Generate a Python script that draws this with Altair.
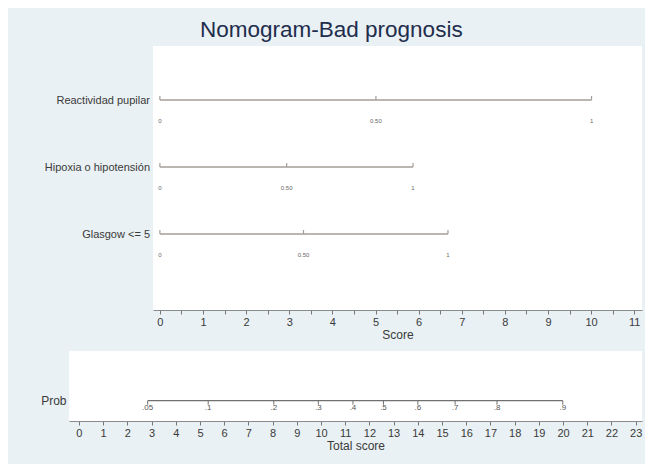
import json
import altair as alt
import pandas as pd

# ---------------- data ----------------
variables = ["Reactividad pupilar", "Hipoxia o hipotensión", "Glasgow <= 5"]
variable_rows = [1, 2, 3]
point_labels = ["0", "0.50", "1"]
reactividad_scores = [0.0, 5.01, 10.01]
hipoxia_scores = [0.0, 2.94, 5.87]
glasgow_scores = [0.0, 3.33, 6.68]

prob_labels = [".05", ".1", ".2", ".3", ".4", ".5", ".6", ".7", ".8", ".9"]
prob_scores = [2.84, 5.34, 8.05, 9.89, 11.32, 12.58, 14.0, 15.54, 17.27, 19.99]
prob_row = [1]

score_ticks = [0, 0.5, 1, 1.5, 2, 2.5, 3, 3.5, 4, 4.5, 5, 5.5, 6, 6.5, 7, 7.5,
               8, 8.5, 9, 9.5, 10, 10.5, 11]
total_ticks = [0, 1, 2, 3, 4, 5, 6, 7, 8, 9, 10, 11, 12, 13, 14, 15, 16, 17,
               18, 19, 20, 21, 22, 23]

# ---------------- tables ----------------
all_scores = [reactividad_scores, hipoxia_scores, glasgow_scores]
lines_df = pd.DataFrame({
    "variable": variables,
    "row": variable_rows,
    "start": [min(s) for s in all_scores],
    "end": [max(s) for s in all_scores],
})
pts_rows = []
for var, row, scores in zip(variables, variable_rows, all_scores):
    for sc, lab in zip(scores, point_labels):
        pts_rows.append({"variable": var, "row": row, "score": sc, "label": lab})
pts_df = pd.DataFrame(pts_rows)

prob_line_df = pd.DataFrame({"row": prob_row, "start": [min(prob_scores)],
                             "end": [max(prob_scores)]})
prob_df = pd.DataFrame({"row": prob_row * len(prob_scores), "score": prob_scores,
                        "label": prob_labels})

# ---------------- styles ----------------
BG = "#E9F1F4"
FONT = "Liberation Sans"
TXT = "#3a3a3a"
LINE = "#a39e98"

x_top = alt.Scale(domain=[-0.16, 11.18], nice=False, zero=False)
y_top = alt.Scale(domain=[0.194, 4.134], reverse=True, nice=False, zero=False)

top_axis = alt.Axis(values=score_ticks,
                    labelExpr="datum.value % 1 === 0 ? format(datum.value, 'd') : ''",
                    tickSize=4, labelPadding=2, labelFontSize=11, titleFontSize=12,
                    titlePadding=2, grid=False, domainColor="#8a8a8a", tickColor="#777777",
                    labelColor=TXT, titleColor=TXT, titleFontWeight="normal",
                    labelFlush=False, labelOverlap=False)


def xt(field):
    return alt.X(field, type="quantitative", scale=x_top, axis=top_axis, title="Score")


def yt(field):
    return alt.Y(field, type="quantitative", scale=y_top, axis=None)


top_lines = alt.Chart(lines_df).mark_rule(color=LINE, strokeWidth=1.6).encode(
    x=xt("start"), x2="end", y=yt("row"))
top_ticks = alt.Chart(pts_df).mark_rule(color=LINE, strokeWidth=1.2, yOffset=-4).encode(
    x=xt("score"), y=yt("row"), y2="row")
top_text = alt.Chart(pts_df).mark_text(fontSize=6, dy=21, color="#666666").encode(
    x=xt("score"), y=yt("row"), text="label:N")

top_plot = alt.layer(top_lines, top_ticks, top_text).properties(
    width=489, height=264, view=alt.ViewBackground(fill="white"))

label_expr = json.dumps(variables, ensure_ascii=False) + "[datum.value - 1]"
lab_axis = alt.Axis(values=variable_rows, labelExpr=label_expr, ticks=False, tickSize=0,
                    domain=False, grid=False, labelPadding=-80.5, labelFontSize=11,
                    labelColor=TXT, title=None, labelOverlap=False)
labels_chart = alt.Chart(lines_df).mark_point(opacity=0).encode(
    y=alt.Y("row:Q", scale=y_top, axis=lab_axis)).properties(width=84, height=264)

top_row = alt.hconcat(labels_chart, top_plot, spacing=0)

# ---------------- bottom ----------------
x_bot = alt.Scale(domain=[-0.41, 23.26], nice=False, zero=False)
y_bot = alt.Scale(domain=[0.258, 1.303], reverse=True, nice=False, zero=False)

bot_axis = alt.Axis(values=total_ticks, format="d", tickSize=4, labelPadding=2,
                    labelFontSize=11, titleFontSize=12, titlePadding=2, grid=False,
                    domainColor="#8a8a8a", tickColor="#777777", labelColor=TXT,
                    titleColor=TXT, titleFontWeight="normal", labelFlush=False,
                    labelOverlap=False)
prob_axis = alt.Axis(values=prob_row, labelExpr="'Prob'", ticks=False, tickSize=0,
                     domain=False, grid=False, labelPadding=3, labelFontSize=12,
                     labelColor=TXT, title=None)


def xb(field):
    return alt.X(field, type="quantitative", scale=x_bot, axis=bot_axis, title="Total score")


def yb(field):
    return alt.Y(field, type="quantitative", scale=y_bot, axis=prob_axis)


bot_line = alt.Chart(prob_line_df).mark_rule(color="#707070", strokeWidth=1.2).encode(
    x=xb("start"), x2="end", y=yb("row"))
bot_ticks = alt.Chart(prob_df).mark_rule(color="#707070", strokeWidth=1, y2Offset=4).encode(
    x=xb("score"), y=yb("row"), y2="row")
bot_text = alt.Chart(prob_df).mark_text(fontSize=8, dy=7, color="#555555").encode(
    x=xb("score"), y=yb("row"), text="label:N")

bottom = alt.layer(bot_line, bot_ticks, bot_text).properties(
    width=573, height=70, view=alt.ViewBackground(fill="white"))

chart = alt.vconcat(top_row, bottom, spacing=11).properties(
    title=alt.TitleParams("Nomogram-Bad prognosis", fontSize=22.5, font=FONT,
                          fontWeight="normal", color="#1f2d4d", anchor="middle",
                          offset=5, dx=-10),
    background=BG,
    padding={"left": 32, "top": 10, "right": 3, "bottom": 13},
).configure_view(stroke=None).configure_axis(labelFont=FONT, titleFont=FONT
).configure_text(font=FONT)

chart.save("out.html", embed_options={"renderer": "svg", "actions": False})
